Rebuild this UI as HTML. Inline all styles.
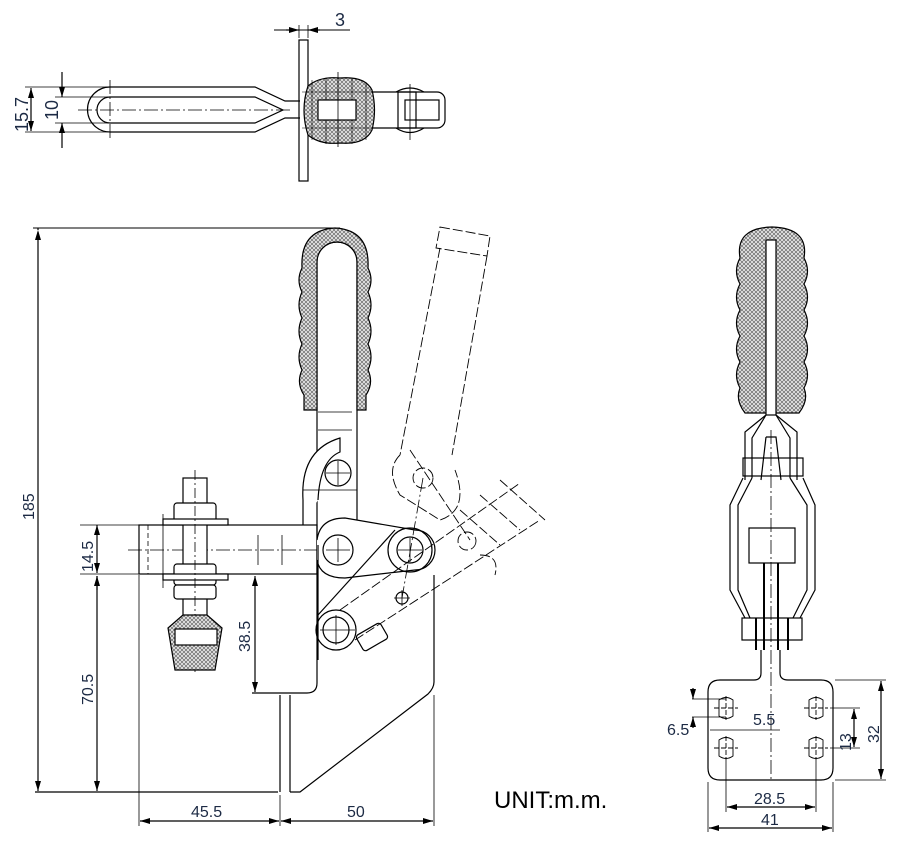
<!DOCTYPE html>
<html><head><meta charset="utf-8"><style>
html,body{margin:0;padding:0;background:#fff;}
svg{display:block}
text{font-family:"Liberation Sans",sans-serif;fill:#1c2a44}
</style></head><body>
<svg width="920" height="848" viewBox="0 0 920 848" xmlns="http://www.w3.org/2000/svg">
<defs>
<pattern id="h" width="4" height="4" patternUnits="userSpaceOnUse">
<rect width="4" height="4" fill="#e4e4e4"/>
<path d="M0,0L4,4M4,0L0,4" stroke="#555" stroke-width="0.6"/>
</pattern>
<marker id="a" markerWidth="10" markerHeight="6" refX="10" refY="3" orient="auto" markerUnits="userSpaceOnUse"><path d="M0,0L10,3L0,6z" fill="#000"/></marker>
<marker id="b" markerWidth="10" markerHeight="6" refX="0" refY="3" orient="auto" markerUnits="userSpaceOnUse"><path d="M10,0L0,3L10,6z" fill="#000"/></marker>
</defs>
<g fill="none" stroke="#000" stroke-width="1.2">
<!-- TOP VIEW -->
<line x1="274" y1="30" x2="350" y2="30" stroke-width="1"/>
<line x1="299" y1="25" x2="299" y2="38" stroke-width="0.8"/><line x1="308" y1="25" x2="308" y2="38" stroke-width="0.8"/>
<line x1="286" y1="30" x2="299" y2="30" marker-end="url(#a)"/><line x1="320" y1="30" x2="308" y2="30" marker-end="url(#a)"/>
<rect x="299" y="40" width="9" height="141" fill="#fff"/>
<path d="M110,87 H255 L285,101 H300 M300,118 H285 L255,132 H110 A22,22 0 0 1 110,87" />
<path d="M110,97 H255 L283,110 L255,123 H110 A13,13 0 0 1 110,97"/>
<line x1="78" y1="110" x2="290" y2="110" stroke-dasharray="14,3,2,3" stroke-width="0.8"/>
<line x1="110" y1="80" x2="110" y2="140" stroke-dasharray="14,3,2,3" stroke-width="0.8"/>
<path d="M308,86 Q320,76 340,78 Q365,76 372,90 Q377,110 372,130 Q365,145 340,143 Q320,145 308,135 Q300,110 308,86z" fill="url(#h)"/>
<path d="M312,80 V140 M326,78 V144 M352,78 V144 M366,82 V140 M302,92 H374 M302,128 H374" stroke-width="0.6"/>
<rect x="318" y="100" width="38" height="20" fill="#fff"/>
<line x1="338" y1="72" x2="338" y2="147" stroke-width="0.8"/>
<path d="M372,92 H437 A8,8 0 0 1 445,100 V120 A8,8 0 0 1 437,128 H372"/>
<rect x="398" y="92" width="18" height="36"/>
<path d="M396,92 Q410,84 424,92 M396,128 Q410,137 424,128"/>
<line x1="410" y1="84" x2="410" y2="140" stroke-width="0.8"/>
<rect x="405" y="100" width="34" height="20"/>
<line x1="25" y1="87" x2="110" y2="87" stroke-width="0.8"/><line x1="25" y1="132" x2="110" y2="132" stroke-width="0.8"/>
<line x1="55" y1="97" x2="110" y2="97" stroke-width="0.8"/><line x1="55" y1="123" x2="110" y2="123" stroke-width="0.8"/>
<line x1="31" y1="110" x2="31" y2="88" marker-end="url(#a)"/><line x1="31" y1="110" x2="31" y2="131" marker-end="url(#a)"/>
<line x1="62" y1="72" x2="62" y2="97" marker-end="url(#a)"/><line x1="62" y1="148" x2="62" y2="123" marker-end="url(#a)"/>

<!-- FRONT VIEW dims -->
<line x1="33" y1="228" x2="340" y2="228" stroke-width="1"/>
<line x1="38" y1="228" x2="38" y2="230" marker-end="url(#b)"/>
<line x1="38" y1="232" x2="38" y2="791" marker-end="url(#a)"/>
<line x1="35" y1="792" x2="278" y2="792"/>
<line x1="80" y1="525" x2="140" y2="525" stroke-width="0.8"/><line x1="80" y1="574" x2="140" y2="574" stroke-width="0.8"/>
<line x1="97" y1="527" x2="97" y2="525" marker-end="url(#a)"/><line x1="97" y1="527" x2="97" y2="573" marker-end="url(#a)"/>
<line x1="97" y1="576" x2="97" y2="791" marker-end="url(#a)"/><line x1="97" y1="590" x2="97" y2="576" marker-end="url(#a)"/>
<line x1="255" y1="590" x2="255" y2="576" marker-end="url(#a)"/><line x1="255" y1="590" x2="255" y2="692" marker-end="url(#a)"/>
<line x1="139" y1="575" x2="139" y2="826" stroke-width="0.8"/>
<line x1="280" y1="795" x2="280" y2="826" stroke-width="0.8"/>
<line x1="434" y1="695" x2="434" y2="826" stroke-width="0.8"/>
<line x1="200" y1="821" x2="140" y2="821" marker-end="url(#a)"/><line x1="200" y1="821" x2="279" y2="821" marker-end="url(#a)"/>
<line x1="350" y1="821" x2="281" y2="821" marker-end="url(#a)"/><line x1="350" y1="821" x2="433" y2="821" marker-end="url(#a)"/>
<!-- body -->
<path d="M317,525 V683 Q317,693 307,693 H252"/>
<path d="M434,575 V682 Q434,688 428,694 L300,792 H290 M290,792 V695 M280,695 V792"/>
<!-- arm -->
<rect x="139" y="525" width="178" height="49"/>
<line x1="148" y1="525" x2="148" y2="574" stroke-dasharray="5,3" stroke-width="0.8"/>
<line x1="128" y1="550" x2="400" y2="550" stroke-dasharray="14,3,2,3" stroke-width="0.8"/>
<line x1="258" y1="535" x2="258" y2="565" stroke-width="0.8"/><line x1="282" y1="535" x2="282" y2="565" stroke-width="0.8"/>
<!-- bolt -->
<rect x="183" y="478" width="24" height="190" fill="#fff"/>
<rect x="174" y="503" width="42" height="20" rx="3" fill="#fff"/>
<rect x="163" y="519" width="65" height="6" fill="#fff"/>
<rect x="174" y="564" width="42" height="21" rx="3" fill="#fff"/>
<rect x="163" y="574" width="65" height="6" fill="#fff"/>
<rect x="174" y="585" width="42" height="14" rx="3" fill="#fff"/>
<line x1="195" y1="470" x2="195" y2="672" stroke-dasharray="10,3,2,3" stroke-width="0.8"/>
<line x1="163" y1="514" x2="163" y2="588" stroke-width="0.8"/>
<path d="M183,615 L168,628 L175,670 H215 L222,628 L207,615 Z" fill="url(#h)"/>
<rect x="175" y="629" width="42" height="16" fill="#fff"/>
<!-- handle -->
<path d="M317,410 V262 A20,20 0 0 1 357,262 V410" stroke-width="1.2"/>
<path d="M317,410 H304 L304,395 Q296,383 302,370 Q296,357 302,344 Q296,331 302,318 Q296,305 302,292 Q296,280 302,268 Q300,230 335,228 Q370,230 368,268 Q374,280 368,292 Q374,305 368,318 Q374,331 368,344 Q374,357 368,370 Q374,383 366,395 L366,410 H357 V262 A20,20 0 0 0 317,262 Z" fill="url(#h)"/>
<line x1="317" y1="410" x2="317" y2="525"/><line x1="357" y1="410" x2="357" y2="530"/>
<line x1="318" y1="412" x2="352" y2="412" stroke-width="0.8"/><line x1="318" y1="430" x2="352" y2="430" stroke-width="0.8"/>
<path d="M303,525 V500 Q300,450 340,438 V452 Q320,460 318,500" fill="#fff"/>
<line x1="303" y1="490" x2="357" y2="490" stroke-width="0.8"/>
<circle cx="338" cy="473" r="13"/>
<path d="M326,473h24M338,461v24" stroke-width="0.8"/>
<path d="M317,540 Q320,518 345,518 L415,530 A20,20 0 0 1 415,570 L345,578 Q320,578 317,560" fill="#fff"/>
<circle cx="338" cy="550" r="15"/><path d="M326,550h24M338,538v24" stroke-width="0.8"/>
<circle cx="410" cy="550" r="22"/><circle cx="410" cy="550" r="13"/><path d="M398,550h24M410,538v24" stroke-width="0.8"/>
<path d="M318,615 L395,530" />
<line x1="318" y1="545" x2="318" y2="660"/>
<circle cx="336" cy="630" r="20"/><circle cx="336" cy="630" r="13" /><path d="M320,630h35M336,615v30" stroke-width="0.8"/>
<rect x="358" y="628" width="28" height="18" rx="3" transform="rotate(-30 372 637)" fill="#fff"/>
<circle cx="402" cy="598" r="6"/><path d="M394,598h16M402,590v16" stroke-width="0.8"/>
<!-- phantom -->
<g stroke-dasharray="10,3" stroke-width="0.9">
<path d="M440,227 L490,236 L487,256 L436,248 Z"/>
<path d="M440,248 L400,455 M487,256 L452,455"/>
<path d="M400,455 Q385,470 400,495 L440,520 Q470,510 455,470"/>
<circle cx="423" cy="478" r="10"/>
<circle cx="467" cy="541" r="9"/>
<path d="M340,610 L520,483 M355,640 L540,520 M500,480 L545,520 M480,495 L520,530 M460,510 L500,545"/>
<path d="M410,450 L470,540 M480,555 Q500,555 495,575"/>
</g>
<line x1="423" y1="478" x2="402" y2="598" stroke-dasharray="14,3,2,3" stroke-width="0.8"/>

<!-- SIDE VIEW -->
<path d="M745,413 Q735,400 740,388 Q733,375 740,362 Q733,349 740,336 Q733,323 740,310 Q733,297 740,284 Q733,271 740,258 Q735,228 772,227 Q809,228 804,258 Q811,271 804,284 Q811,297 804,310 Q811,323 804,336 Q811,349 804,362 Q811,375 804,388 Q809,400 799,413 Z" fill="url(#h)"/>
<rect x="766" y="240" width="10" height="175" fill="#fff"/>
<path d="M766,415 L745,432 V480 M776,415 L797,432 V480"/>
<path d="M766,415 L752,438 V478 M776,415 L790,438 V478"/>
<path d="M766,437 H776 L781,480 M766,437 L761,480"/>
<rect x="743" y="458" width="60" height="18"/>
<path d="M743,478 L730,505 V590 L745,618 M803,478 L815,505 V590 L800,618"/>
<path d="M752,478 L738,505 V590 L750,618 M790,478 L807,505 V590 L793,618"/>
<rect x="749" y="528" width="46" height="35"/>
<path d="M756,618 V650 M788,618 V650 M764,563 V650 M778,563 V650" stroke-width="2"/>
<rect x="742" y="618" width="60" height="22"/>
<path d="M761,650 V673 Q761,680 754,680 H720 Q708,680 708,692 V768 Q708,780 720,780 H821 Q833,780 833,768 V692 Q833,680 821,680 H788 Q780,680 780,673 V650"/>
<line x1="771" y1="430" x2="771" y2="780" stroke-dasharray="14,3,2,3" stroke-width="0.8"/>
<g stroke-width="0.9">
<path d="M719,700 Q726,695 733,700 V716 Q726,721 719,716Z M809,700 Q816,695 823,700 V716 Q816,721 809,716Z M719,740 Q726,735 733,740 V756 Q726,761 719,756Z M809,740 Q816,735 823,740 V756 Q816,761 809,756Z"/>
<path d="M714,708h24M726,696v24M804,708h24M816,696v24M714,748h24M726,736v24M804,748h24M816,736v24" stroke-dasharray="5,2"/>
</g>
<line x1="692" y1="699" x2="726" y2="699" stroke-width="0.8"/><line x1="692" y1="717" x2="726" y2="717" stroke-width="0.8"/>
<line x1="693" y1="688" x2="693" y2="699" marker-end="url(#a)"/><line x1="693" y1="728" x2="693" y2="717" marker-end="url(#a)"/>
<line x1="710" y1="730" x2="780" y2="730" stroke-width="0.8"/>
<line x1="830" y1="708" x2="860" y2="708" stroke-width="0.8"/><line x1="830" y1="748" x2="860" y2="748" stroke-width="0.8"/>
<line x1="854" y1="728" x2="854" y2="709" marker-end="url(#a)"/><line x1="854" y1="728" x2="854" y2="747" marker-end="url(#a)"/>
<line x1="835" y1="680" x2="886" y2="680" stroke-width="0.8"/><line x1="835" y1="780" x2="886" y2="780" stroke-width="0.8"/>
<line x1="881" y1="730" x2="881" y2="681" marker-end="url(#a)"/><line x1="881" y1="730" x2="881" y2="779" marker-end="url(#a)"/>
<line x1="726" y1="760" x2="726" y2="812" stroke-width="0.8"/><line x1="816" y1="760" x2="816" y2="812" stroke-width="0.8"/>
<line x1="708" y1="782" x2="708" y2="832" stroke-width="0.8"/><line x1="833" y1="782" x2="833" y2="832" stroke-width="0.8"/>
<line x1="771" y1="807" x2="727" y2="807" marker-end="url(#a)"/><line x1="771" y1="807" x2="815" y2="807" marker-end="url(#a)"/>
<line x1="771" y1="828" x2="709" y2="828" marker-end="url(#a)"/><line x1="771" y1="828" x2="832" y2="828" marker-end="url(#a)"/>
</g>
<g font-size="16">
<text x="335" y="26" font-size="18">3</text>
<text transform="translate(28,132) rotate(-90)" font-size="18">15.7</text>
<text transform="translate(58,120) rotate(-90)" font-size="18">10</text>
<text transform="translate(34,520) rotate(-90)">185</text>
<text transform="translate(93,572) rotate(-90)">14.5</text>
<text transform="translate(93,705) rotate(-90)">70.5</text>
<text transform="translate(250,652) rotate(-90)">38.5</text>
<text x="191" y="817">45.5</text>
<text x="347" y="817">50</text>
<text x="667" y="735">6.5</text>
<text x="753" y="725">5.5</text>
<text transform="translate(851,751) rotate(-90)">13</text>
<text transform="translate(879,743) rotate(-90)">32</text>
<text x="754" y="804">28.5</text>
<text x="761" y="825">41</text>
</g>
<text x="494" y="808" font-size="24" style="fill:#000">UNIT:m.m.</text>
</svg>
</body></html>
